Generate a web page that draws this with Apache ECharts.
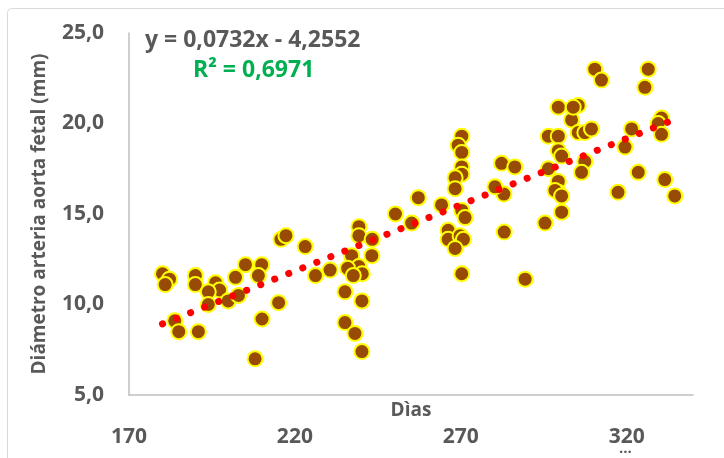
<!DOCTYPE html>
<html>
<head>
<meta charset="utf-8">
<script src="https://cdn.jsdelivr.net/npm/echarts@6/dist/echarts.min.js"></script>
<style>
  html, body { margin: 0; padding: 0; background: #fff; }
  #chart { width: 724px; height: 458px; }
</style>
</head>
<body>
<div id="chart"></div>
<script>
  // días de gestación
  const dias = [
    180.1, 182.2, 180.9, 183.8, 185.0, 190.0, 190.0, 190.9, 196.1, 197.3,
    193.9, 193.9, 199.9, 203.0, 202.1, 205.1, 210.0, 209.0, 210.1, 208.0,
    215.1, 215.8, 217.3, 223.1, 226.2, 230.6, 257.2, 250.3, 255.2, 239.3,
    239.3, 243.3, 237.1, 243.2, 239.3, 235.9, 240.3, 237.6, 235.1, 240.2,
    235.1, 238.1, 240.2, 264.2, 270.3, 271.3, 266.2, 266.2, 269.8, 270.8,
    268.3, 270.3, 283.1, 283.0, 270.3, 269.2, 270.3, 270.3, 270.3, 268.3,
    268.3, 282.3, 280.3, 286.3, 295.4, 300.4, 299.4, 299.4, 298.4, 300.4,
    296.4, 299.4, 299.4, 300.4, 303.4, 299.4, 305.4, 303.9, 305.4, 307.4,
    309.4, 307.4, 306.4, 296.4, 310.4, 312.4, 326.5, 325.5, 321.5, 319.5,
    330.5, 329.5, 330.5, 323.5, 317.4, 331.5, 334.5, 289.4
  ]
  // diámetro aorta (mm)
  const diametro = [
    11.7, 11.4, 11.1, 9.1, 8.5, 11.6, 11.1, 8.5, 11.2, 10.8,
    10.7, 10.0, 10.2, 10.5, 11.5, 12.2, 12.2, 11.6, 9.2, 7.0,
    10.1, 13.6, 13.8, 13.2, 11.6, 11.9, 15.9, 15.0, 14.5, 14.3,
    13.8, 13.6, 12.7, 12.7, 12.1, 12.0, 11.7, 11.6, 10.7, 10.2,
    9.0, 8.4, 7.4, 15.5, 15.2, 14.8, 14.1, 13.6, 13.8, 13.6,
    13.1, 11.7, 14.0, 16.1, 19.3, 18.8, 18.4, 17.6, 17.2, 17.0,
    16.4, 17.8, 16.5, 17.6, 14.5, 15.1, 16.8, 16.2, 16.3, 16.0,
    19.3, 19.3, 18.5, 18.2, 20.2, 20.9, 21.0, 20.9, 19.5, 19.5,
    19.7, 17.9, 17.3, 17.5, 23.0, 22.4, 23.0, 22.0, 19.7, 18.7,
    20.3, 20.0, 19.4, 17.3, 16.2, 16.9, 16.0, 11.4
  ]
  // línea de tendencia (Excel): y = 0,0732x - 4,2552
  const pendiente = 0.0732
  const intercepto = -4.2552
  const ejeX = { min: 170, max: 340, interval: 50 }
  const ejeY = { min: 5, max: 25, interval: 5 }

  const puntos = dias.map((d, i) => [d, diametro[i]])
  const xMin = Math.min(...dias)
  const xMax = Math.max(...dias)
  const tendencia = [
    [xMin, pendiente * xMin + intercepto],
    [xMax, pendiente * xMax + intercepto]
  ]

  const gris = '#595959'
  const fuente = 'Open Sans'
  const coma = v => v.toFixed(1).replace('.', ',')

  const chart = echarts.init(document.getElementById('chart'))
  chart.setOption({
    animation: false,
    grid: { left: 129, right: 31, top: 33, bottom: 63, containLabel: false, outerBoundsMode: 'none' },
    xAxis: {
      type: 'value',
      min: ejeX.min,
      max: ejeX.max,
      interval: ejeX.interval,
      name: 'Dìas',
      nameLocation: 'middle',
      nameGap: 6,
      nameMoveOverlap: false,
      nameTextStyle: { color: gris, fontSize: 19, fontWeight: 'bold', fontFamily: fuente, verticalAlign: 'top' },
      axisLine: { lineStyle: { color: '#BFBFBF', width: 1.5 } },
      axisTick: { show: false },
      splitLine: { show: false },
      axisLabel: {
        color: gris, fontSize: 21, fontWeight: 'bold', fontFamily: fuente,
        margin: 32, showMaxLabel: false
      }
    },
    yAxis: {
      type: 'value',
      min: ejeY.min,
      max: ejeY.max,
      interval: ejeY.interval,
      name: 'Diámetro arteria aorta fetal (mm)',
      nameLocation: 'middle',
      nameGap: 80,
      nameMoveOverlap: false,
      nameTextStyle: { color: gris, fontSize: 19, fontWeight: 'bold', fontFamily: fuente },
      axisLine: { show: true, lineStyle: { color: '#BFBFBF', width: 1.5 } },
      axisTick: { show: false },
      splitLine: { show: false },
      axisLabel: {
        color: gris, fontSize: 21, fontWeight: 'bold', fontFamily: fuente,
        margin: 25, formatter: coma
      }
    },
    graphic: [
      {
        type: 'rect', silent: true, z: -1,
        shape: { x: 7.5, y: 8.5, width: 800, height: 500, r: 4 },
        style: { fill: 'none', stroke: '#D9D9D9', lineWidth: 1 }
      },
      {
        type: 'text', left: 145, top: 29,
        style: { text: 'y = 0,0732x - 4,2552', fill: gris, font: 'bold 23px "Open Sans"' }
      },
      {
        type: 'text', left: 193, top: 59,
        style: { text: 'R² = 0,6971', fill: '#00B050', font: 'bold 23px "Open Sans"' }
      },
      {
        type: 'text', left: 619, top: 441,
        style: { text: '...', fill: gris, font: 'bold 15px "Open Sans"' }
      }
    ],
    series: [
      {
        type: 'scatter',
        data: puntos,
        symbolSize: 15,
        itemStyle: { color: '#974B05', borderColor: '#FFFF00', borderWidth: 2, opacity: 1 },
        z: 2
      },
      {
        type: 'line',
        data: tendencia,
        symbol: 'none',
        lineStyle: { color: '#FF0000', width: 7, type: [0.1, 15], cap: 'round' },
        z: 3
      }
    ]
  })
</script>
</body>
</html>
